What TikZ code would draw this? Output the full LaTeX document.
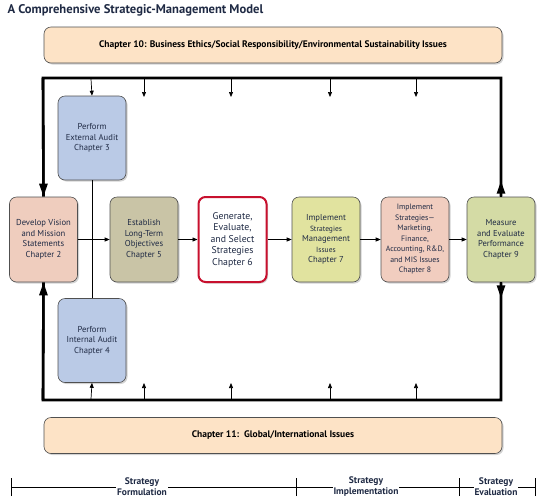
\documentclass[tikz,border=0pt]{standalone}
\usepackage{fontspec}
\setmainfont{PT Sans}
\usetikzlibrary{arrows.meta,shadows}
\definecolor{peach}{HTML}{FDE3C6}
\definecolor{vision}{HTML}{EFCDBE}
\definecolor{audit}{HTML}{BACAE6}
\definecolor{khaki}{HTML}{C9C4A6}
\definecolor{implA}{HTML}{E1E39F}
\definecolor{implB}{HTML}{F1CDBF}
\definecolor{measure}{HTML}{D4DBA5}
\definecolor{redline}{HTML}{C8102E}
\definecolor{boxline}{HTML}{505050}
\definecolor{txt}{HTML}{1F2A44}
\begin{document}
\begin{tikzpicture}[x=1pt,y=-1pt,
  box/.style={draw=boxline,line width=0.6pt,rounded corners=7pt,align=center,
    inner sep=1pt,text=txt,font=\fontsize{8.6}{10.5}\selectfont,
    drop shadow={shadow xshift=1.5pt,shadow yshift=-1.5pt,opacity=0.35,fill=gray}},
  midbox/.style={box,minimum width=68pt,minimum height=85pt},
  band/.style={box,fill=peach,minimum width=458pt,minimum height=36pt,
    font=\bfseries\fontsize{9.5}{11}\selectfont,text=black},
  loop/.style={line width=2.6pt,black},
  bigtip/.style={-{Triangle[length=13pt,width=8pt]}},
  thin/.style={line width=0.7pt,black,-{Triangle[length=5pt,width=4pt]}},
  plain/.style={line width=0.7pt,black},
  phase/.style={fill=white,inner sep=1pt,align=center,
    font=\bfseries\fontsize{9.5}{11}\selectfont,text=txt}]
\useasboundingbox (0,0) rectangle (544,499);

\node[anchor=west,font=\bfseries\fontsize{12.6}{14}\selectfont,text=txt] (title) at (4,10)
  {A Comprehensive Strategic-Management Model};

\node[band] (ch10) at (273,45)
  {Chapter 10: Business Ethics/Social Responsibility/Environmental Sustainability Issues};
\node[band] (ch11) at (273,435.5)
  {Chapter 11:\ \ Global/International Issues};

\node[midbox,fill=vision] (vis) at (43.5,239.5)
  {Develop Vision\\and Mission\\Statements\\Chapter 2};
\node[midbox,fill=audit,minimum height=84pt] (ext) at (92,138)
  {Perform\\External Audit\\Chapter 3};
\node[midbox,fill=audit,minimum height=84pt] (int) at (92,340.5)
  {Perform\\Internal Audit\\Chapter 4};
\node[midbox,fill=khaki] (obj) at (144,239.5)
  {Establish\\Long-Term\\Objectives\\Chapter 5};
\node[midbox,fill=white,draw=redline,line width=2pt,
  font=\fontsize{9.8}{11.5}\selectfont] (gen) at (232.5,239.5)
  {Generate,\\Evaluate,\\and Select\\Strategies\\Chapter 6};
\node[midbox,fill=implA] (imA) at (326,239.5)
  {Implement\\{\fontsize{7.5}{10.3}\selectfont Strategies}\\Management\\{\fontsize{7.5}{10.3}\selectfont Issues}\\Chapter 7};
\node[midbox,fill=implB,font=\fontsize{7.8}{10.5}\selectfont] (imB) at (415,239.5)
  {Implement\\Strategies---\\Marketing,\\Finance,\\Accounting, R\&D,\\and MIS Issues\\Chapter 8};
\node[midbox,fill=measure] (mea) at (501,239.5)
  {Measure\\and Evaluate\\Performance\\Chapter 9};

% corners of the feedback loop
\coordinate (tl) at (43,78);
\coordinate (tr) at (501,78);
\coordinate (bl) at (43,400);
\coordinate (br) at (501,400);

% horizontal flow
\draw[plain] (ext.south) -- (int.north);
\draw[thin] (vis.east) -- (obj.west);
\draw[thin] (obj.east) -- (gen.west);
\draw[thin] (gen.east) -- (imA.west);
\draw[thin] (imA.east) -- (imB.west);
\draw[thin] (imB.east) -- (mea.west);

% feedback loop
\draw[loop,line join=miter] (mea.north) -- (tr) -- (tl) -- (vis.north);
\draw[loop,bigtip] (tl) -- (vis.north);
\draw[loop,bigtip] (mea.north) -- ++(0,-16);
\draw[loop,line join=miter] (mea.south) -- (br) -- (bl) -- (vis.south);
\draw[loop,bigtip] (bl) -- (vis.south);
\draw[loop,bigtip] (mea.south) -- ++(0,16);

% small arrows from the loop
\coordinate (t1) at (91,79); \coordinate (b1) at (91,399);
\draw[thin] (t1) -- (ext.north);
\draw[thin] (b1) -- (int.south);
\foreach \x/\n in {144/2,231/3,330/4,416/5}{
  \coordinate (t\n) at (\x,79); \coordinate (te\n) at (\x,97);
  \coordinate (b\n) at (\x,399); \coordinate (be\n) at (\x,383);
  \draw[thin] (t\n) -- (te\n);
  \draw[thin] (b\n) -- (be\n);
}

% timeline
\coordinate (p0) at (11,487); \coordinate (p1) at (296,487);
\coordinate (p2) at (459,487); \coordinate (p3) at (535,487);
\draw[plain] (p0) -- (p3);
\foreach \p in {p0,p1,p2,p3}{\draw[plain] ([yshift=-9pt]\p) -- ([yshift=9pt]\p);}
\node[phase] (f1) at (142,487) {Strategy\\Formulation};
\node[phase] (f2) at (366,487) {Strategy\\Implementation};
\node[phase] (f3) at (496,487) {Strategy\\Evaluation};
\end{tikzpicture}
\end{document}
